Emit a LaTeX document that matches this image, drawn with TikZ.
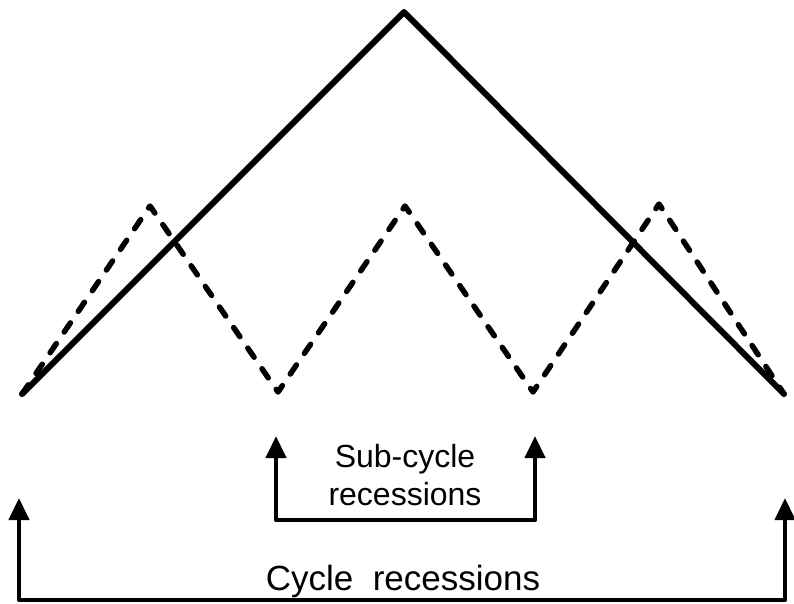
\documentclass[tikz,border=0pt]{standalone}
\usepackage{fontspec}
\setmainfont{Liberation Sans}
\usetikzlibrary{arrows.meta}
\begin{document}
\begin{tikzpicture}[x=1pt,y=-1pt,
  cyc/.style={line width=6pt,line cap=round,line join=round},
  subc/.style={line width=5.5pt,line cap=round,line join=round,dash pattern=on 11pt off 14pt},
  tip/.style={Triangle[length=22pt,width=20pt]},
  brk/.style={line width=4.2pt,line join=round,{Triangle[length=22pt,width=20pt]}-{Triangle[length=22pt,width=20pt]}},
  lbl/.style={inner sep=0pt,align=center}]
\useasboundingbox (0,0) rectangle (794,603);
% solid cycle
\coordinate (s0) at (22,394);
\coordinate (s1) at (404,12);
\coordinate (s2) at (784,394);
\draw[cyc] (s0) -- (s1) -- (s2);
% dashed sub-cycles
\coordinate (d1) at (150,206);
\coordinate (d2) at (278,392);
\coordinate (d3) at (405,206);
\coordinate (d4) at (533,392);
\coordinate (d5) at (659,204);
\draw[subc] (s0) -- (d1) -- (d2) -- (d3) -- (d4) -- (d5) -- (s2);
% sub-cycle bracket
\coordinate (a1) at (276,436);
\coordinate (a2) at (276,520);
\coordinate (a3) at (535,520);
\coordinate (a4) at (535,436);
\draw[brk] (a1) -- (a2) -- (a3) -- (a4);
\node[lbl,font=\fontsize{32}{38}\selectfont,anchor=base] (t1) at (405,467) {Sub-cycle};
\node[lbl,font=\fontsize{32}{38}\selectfont,anchor=base] (t2) at (405,505) {recessions};
% cycle bracket
\coordinate (b1) at (19,498);
\coordinate (b2) at (19,600);
\coordinate (b3) at (785,600);
\coordinate (b4) at (785,498);
\draw[brk] (b1) -- (b2) -- (b3) -- (b4);
\node[lbl,font=\fontsize{35}{40}\selectfont,anchor=base] (t3) at (403,590) {Cycle\ \ recessions};
\end{tikzpicture}
\end{document}
